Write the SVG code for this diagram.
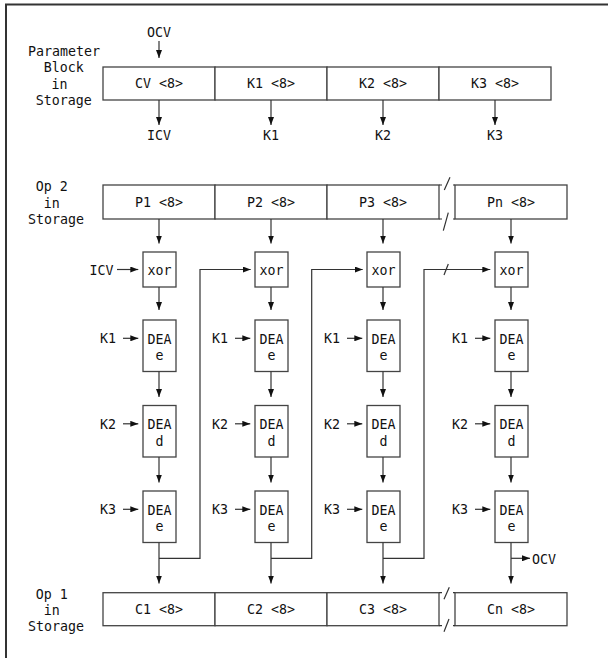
<svg xmlns="http://www.w3.org/2000/svg" width="608" height="658" viewBox="0 0 608 658">
<style>
text{font-family:"DejaVu Sans Mono","Liberation Mono",monospace;font-size:13.3px;fill:#111}
.c{text-anchor:middle}
.box{fill:#fff;stroke:#444;stroke-width:1.3}
.ln{fill:none;stroke:#333;stroke-width:1.2}
.frame{fill:none;stroke:#333;stroke-width:2}
</style>
<defs>
<marker id="ah" viewBox="0 0 8 6" refX="8" refY="3" markerWidth="8" markerHeight="6" markerUnits="userSpaceOnUse" orient="auto"><path d="M0,0L8,3L0,6z" fill="#111"/></marker>
</defs>
<path class="frame" d="M608,4.5H6V658"/>

<g id="labels">
<text x="28" y="56">Parameter</text>
<text x="43.7" y="72">Block</text>
<text x="51.5" y="88.5">in</text>
<text x="35.8" y="104.5">Storage</text>
<text x="35.8" y="191">Op 2</text>
<text x="43.7" y="208">in</text>
<text x="28" y="224">Storage</text>
<text x="35.8" y="598.5">Op 1</text>
<text x="43.7" y="614.5">in</text>
<text x="28" y="630.5">Storage</text>
<text class="c" x="159" y="37">OCV</text>
<text class="c" x="159" y="140">ICV</text>
<text class="c" x="271" y="140">K1</text>
<text class="c" x="383" y="140">K2</text>
<text class="c" x="495" y="140">K3</text>
<text x="89.5" y="274.5">ICV</text>
<text x="532" y="564">OCV</text>
</g>

<g id="param-cv"><rect class="box" x="103" y="67" width="112" height="33"/><text class="c" x="159" y="88.2">CV &lt;8&gt;</text></g>
<g id="param-k1"><rect class="box" x="215" y="67" width="112" height="33"/><text class="c" x="271" y="88.2">K1 &lt;8&gt;</text></g>
<g id="param-k2"><rect class="box" x="327" y="67" width="112" height="33"/><text class="c" x="383" y="88.2">K2 &lt;8&gt;</text></g>
<g id="param-k3"><rect class="box" x="439" y="67" width="112" height="33"/><text class="c" x="495" y="88.2">K3 &lt;8&gt;</text></g>

<g id="p1"><rect class="box" x="103" y="185" width="112" height="34"/><text class="c" x="159" y="206.7">P1 &lt;8&gt;</text></g>
<g id="p2"><rect class="box" x="215" y="185" width="112" height="34"/><text class="c" x="271" y="206.7">P2 &lt;8&gt;</text></g>
<g id="p3"><rect class="box" x="327" y="185" width="112" height="34"/><text class="c" x="383" y="206.7">P3 &lt;8&gt;</text></g>
<g id="pn"><rect class="box" x="455" y="185" width="112" height="34"/><text class="c" x="511" y="206.7">Pn &lt;8&gt;</text></g>

<g id="c1"><rect class="box" x="103" y="592.7" width="112" height="33"/><text class="c" x="159" y="614">C1 &lt;8&gt;</text></g>
<g id="c2"><rect class="box" x="215" y="592.7" width="112" height="33"/><text class="c" x="271" y="614">C2 &lt;8&gt;</text></g>
<g id="c3"><rect class="box" x="327" y="592.7" width="112" height="33"/><text class="c" x="383" y="614">C3 &lt;8&gt;</text></g>
<g id="cn"><rect class="box" x="455" y="592.7" width="112" height="33"/><text class="c" x="511" y="614">Cn &lt;8&gt;</text></g>

<g id="breaks" class="ln">
<path d="M439,185H442M453,185H455M439,219H442M453,219H455"/>
<path d="M444.3,190L450,177.3M443.3,230.7L448.3,212.7"/>
<path d="M439,592.7H442M453,592.7H455M439,625.7H442M453,625.7H455"/>
<path d="M444,599.3L449.3,587.3M444,631.7L449,619"/>
<path d="M444,275L448.3,264"/>
</g>

<g id="col1">
<g id="xor1"><rect class="box" x="143" y="252" width="33" height="35"/><text class="c" x="159.5" y="274.5">xor</text></g>
<g id="dea1e1"><rect class="box" x="143" y="320" width="33" height="51.5"/><text class="c" x="159.5" y="343.5">DEA</text><text class="c" x="159.5" y="360">e</text></g>
<g id="dea1d"><rect class="box" x="143" y="405.5" width="33" height="51.5"/><text class="c" x="159.5" y="429">DEA</text><text class="c" x="159.5" y="445.5">d</text></g>
<g id="dea1e2"><rect class="box" x="143" y="491" width="33" height="51.5"/><text class="c" x="159.5" y="514.5">DEA</text><text class="c" x="159.5" y="531">e</text></g>
<text x="100" y="343">K1</text><text x="100" y="428.5">K2</text><text x="100" y="514">K3</text>
</g>
<g id="col2">
<g id="xor2"><rect class="box" x="255" y="252" width="33" height="35"/><text class="c" x="271.5" y="274.5">xor</text></g>
<g id="dea2e1"><rect class="box" x="255" y="320" width="33" height="51.5"/><text class="c" x="271.5" y="343.5">DEA</text><text class="c" x="271.5" y="360">e</text></g>
<g id="dea2d"><rect class="box" x="255" y="405.5" width="33" height="51.5"/><text class="c" x="271.5" y="429">DEA</text><text class="c" x="271.5" y="445.5">d</text></g>
<g id="dea2e2"><rect class="box" x="255" y="491" width="33" height="51.5"/><text class="c" x="271.5" y="514.5">DEA</text><text class="c" x="271.5" y="531">e</text></g>
<text x="212" y="343">K1</text><text x="212" y="428.5">K2</text><text x="212" y="514">K3</text>
</g>
<g id="col3">
<g id="xor3"><rect class="box" x="367" y="252" width="33" height="35"/><text class="c" x="383.5" y="274.5">xor</text></g>
<g id="dea3e1"><rect class="box" x="367" y="320" width="33" height="51.5"/><text class="c" x="383.5" y="343.5">DEA</text><text class="c" x="383.5" y="360">e</text></g>
<g id="dea3d"><rect class="box" x="367" y="405.5" width="33" height="51.5"/><text class="c" x="383.5" y="429">DEA</text><text class="c" x="383.5" y="445.5">d</text></g>
<g id="dea3e2"><rect class="box" x="367" y="491" width="33" height="51.5"/><text class="c" x="383.5" y="514.5">DEA</text><text class="c" x="383.5" y="531">e</text></g>
<text x="324" y="343">K1</text><text x="324" y="428.5">K2</text><text x="324" y="514">K3</text>
</g>
<g id="col4">
<g id="xor4"><rect class="box" x="495" y="252" width="33" height="35"/><text class="c" x="511.5" y="274.5">xor</text></g>
<g id="dea4e1"><rect class="box" x="495" y="320" width="33" height="51.5"/><text class="c" x="511.5" y="343.5">DEA</text><text class="c" x="511.5" y="360">e</text></g>
<g id="dea4d"><rect class="box" x="495" y="405.5" width="33" height="51.5"/><text class="c" x="511.5" y="429">DEA</text><text class="c" x="511.5" y="445.5">d</text></g>
<g id="dea4e2"><rect class="box" x="495" y="491" width="33" height="51.5"/><text class="c" x="511.5" y="514.5">DEA</text><text class="c" x="511.5" y="531">e</text></g>
<text x="452" y="343">K1</text><text x="452" y="428.5">K2</text><text x="452" y="514">K3</text>
</g>

<g id="connectors" class="ln" marker-end="url(#ah)">
<path d="M159,41V58"/>
<path d="M159,100V125"/><path d="M271,100V125"/><path d="M383,100V125"/><path d="M495,100V125"/>
<path d="M117,269.5H138.3"/>
<path d="M159,219V243.5"/><path d="M159,287V310"/><path d="M159,371.5V397"/><path d="M159,457V482.5"/><path d="M159,542.5V583.5"/>
<path d="M271,219V243.5"/><path d="M271,287V310"/><path d="M271,371.5V397"/><path d="M271,457V482.5"/><path d="M271,542.5V583.5"/>
<path d="M383,219V243.5"/><path d="M383,287V310"/><path d="M383,371.5V397"/><path d="M383,457V482.5"/><path d="M383,542.5V583.5"/>
<path d="M511,219V243.5"/><path d="M511,287V310"/><path d="M511,371.5V397"/><path d="M511,457V482.5"/><path d="M511,542.5V583.5"/>
<path d="M123,338.3H138.3"/><path d="M123,423.8H138.3"/><path d="M123,509.3H138.3"/>
<path d="M235,338.3H250.3"/><path d="M235,423.8H250.3"/><path d="M235,509.3H250.3"/>
<path d="M347,338.3H362.3"/><path d="M347,423.8H362.3"/><path d="M347,509.3H362.3"/>
<path d="M475,338.3H490.3"/><path d="M475,423.8H490.3"/><path d="M475,509.3H490.3"/>
<path d="M159,558.3H200V269.5H250.7"/>
<path d="M271,558.3H311.7V269.5H362.7"/>
<path d="M383,558.3H424V269.5H490.3"/>
<path d="M511,558.3H530"/>
</g>
</svg>
